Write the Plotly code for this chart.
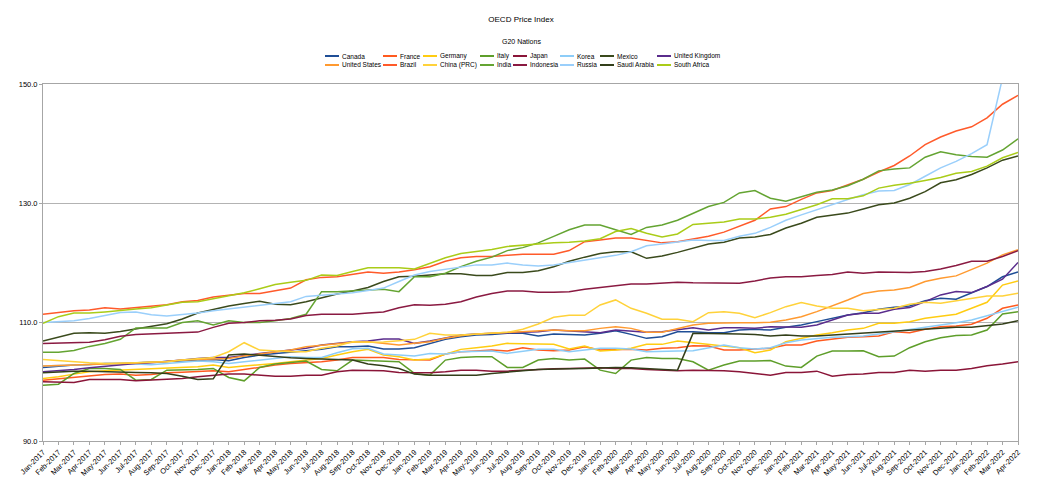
import plotly.graph_objects as go

month_names = ["Jan", "Feb", "Mar", "Apr", "May", "Jun", "Jul", "Aug", "Sep", "Oct", "Nov", "Dec"]
months = [f"{m}-{y}" for y in range(2017, 2023) for m in month_names][:64]

y_ticks = [90, 110, 130, 150]

canada = [102.36, 102.59, 102.76, 102.87, 103.04, 103.04, 103.15, 103.21, 103.32, 103.49,
          103.60, 103.71, 103.49, 104.05, 104.44, 104.72, 105.00, 105.17, 105.40, 105.85, 105.85,
          105.96, 105.45, 105.45, 105.68, 106.41, 107.08, 107.53, 107.81, 107.92, 108.09, 108.09,
          107.64, 107.98, 107.92, 107.81, 108.09, 108.54, 107.92, 107.25, 107.53, 108.37,
          108.37, 108.20, 108.20, 108.65, 108.77, 108.65, 109.10, 109.50, 110.06, 110.62, 111.18,
          111.57, 112.13, 112.47, 112.70, 113.56, 113.99, 113.82, 114.83, 115.96, 117.6, 118.4]
france = [100.23, 100.45, 100.68, 100.90, 101.18, 101.24, 101.07, 101.18, 101.46, 101.57,
          101.63, 101.80, 101.63, 102.03, 102.36, 102.76, 103.04, 103.15, 103.32, 103.60, 104.05,
          104.05, 104.05, 103.71, 103.60, 103.60, 104.61, 105.00, 105.12, 105.28, 105.12, 105.68,
          105.28, 105.17, 105.28, 105.85, 105.28, 105.40, 105.40, 105.28, 105.59, 105.68,
          106.01, 105.96, 105.28, 105.28, 105.40, 105.59, 106.13, 106.13, 106.80, 107.08, 107.42,
          107.53, 107.64, 108.37, 108.20, 108.77, 109.21, 109.33, 109.61, 110.62, 112.30, 112.87]
germany = [100.51, 100.79, 101.24, 101.63, 101.80, 101.91, 102.03, 102.03, 102.19, 102.36,
           102.47, 102.76, 102.36, 102.59, 102.76, 103.04, 103.32, 103.60, 103.88, 104.44, 105.00,
           105.40, 104.44, 104.16, 103.60, 103.77, 104.61, 105.40, 105.68, 105.96, 106.41, 106.29,
           106.29, 106.24, 105.45, 105.96, 105.12, 105.28, 105.59, 106.24, 106.24, 106.80,
           106.52, 106.24, 105.85, 105.68, 104.83, 105.28, 106.69, 107.25, 107.81, 108.20, 108.65,
           108.93, 109.78, 109.78, 110.06, 110.62, 111.01, 111.29, 112.30, 113.31, 116.2, 116.9]
italy = [99.39, 99.55, 101.35, 102.19, 102.19, 102.03, 100.23, 100.34, 101.91, 101.91,
         102.03, 102.19, 100.68, 100.11, 102.36, 102.93, 103.21, 103.43, 102.03, 101.80, 103.60,
         103.49, 103.43, 103.32, 101.35, 101.07, 103.60, 104.05, 104.16, 104.16, 102.36, 102.36,
         103.60, 103.88, 103.60, 103.77, 101.91, 101.35, 103.60, 104.05, 103.88, 103.88,
         103.32, 101.91, 102.76, 103.43, 103.43, 103.54, 102.59, 102.36, 104.27, 105.12, 105.12,
         105.17, 104.16, 104.27, 105.68, 106.69, 107.36, 107.75, 107.81, 108.65, 111.35, 111.74]
japan = [99.95, 99.83, 99.83, 100.34, 100.34, 100.34, 100.11, 100.23, 100.45, 100.51,
         100.79, 101.07, 101.24, 101.24, 101.01, 100.90, 100.90, 101.07, 101.07, 101.63, 101.91,
         101.91, 101.80, 101.52, 101.52, 101.46, 101.63, 101.91, 101.91, 101.74, 101.74, 101.91,
         102.03, 102.14, 102.19, 102.31, 102.31, 102.19, 102.19, 102.03, 101.91, 101.80,
         101.91, 101.91, 101.80, 101.63, 101.35, 101.07, 101.52, 101.52, 101.74, 100.90, 101.18,
         101.24, 101.52, 101.52, 101.91, 101.74, 101.91, 101.91, 102.19, 102.64, 102.93, 103.32]
korea = [102.59, 102.70, 102.76, 102.81, 103.04, 103.04, 102.93, 102.81, 103.04, 103.26,
         103.43, 103.32, 103.04, 103.32, 103.60, 103.99, 104.16, 104.05, 104.05, 104.83, 105.51,
         105.59, 104.61, 104.44, 104.27, 104.72, 104.61, 105.00, 105.00, 105.12, 104.72, 105.00,
         105.40, 105.40, 105.00, 105.28, 105.59, 105.59, 105.45, 105.00, 105.00, 105.12,
         105.17, 105.59, 106.13, 105.68, 105.45, 105.68, 106.52, 106.97, 107.25, 107.42, 107.53,
         107.64, 107.98, 108.37, 108.65, 109.05, 109.50, 109.89, 110.34, 111.01, 111.74, 112.47]
mexico = [106.8, 107.4, 108.1, 108.2, 108.1, 108.4, 108.8, 109.2, 109.7, 110.5,
          111.5, 112.1, 112.7, 113.1, 113.5, 113.0, 112.9, 113.4, 114.1, 114.7,
          115.2, 115.8, 116.8, 117.6, 117.7, 117.9, 118.1, 118.1, 117.8, 117.8,
          118.3, 118.3, 118.6, 119.3, 120.2, 120.9, 121.5, 121.8, 121.8, 120.7,
          121.1, 121.7, 122.4, 123.1, 123.4, 124.1, 124.3, 124.7, 125.8, 126.6,
          127.6, 128.0, 128.3, 129.0, 129.7, 130.0, 130.8, 131.9, 133.4, 133.9,
          134.8, 135.9, 137.2, 137.9]
united_kingdom = [101.63, 101.80, 102.03, 102.31, 102.59, 102.76, 103.04, 103.15, 103.32, 103.60,
                  103.88, 104.05, 104.05, 104.44, 104.72, 105.00, 105.28, 105.59, 106.13, 106.41, 106.69,
                  106.80, 107.14, 107.14, 106.41, 106.80, 107.36, 107.81, 107.98, 108.09, 108.26, 108.37,
                  108.37, 108.65, 108.54, 108.37, 108.20, 108.65, 108.48, 108.26, 108.37, 108.77,
                  109.05, 108.65, 109.05, 109.05, 108.93, 109.21, 109.10, 109.10, 109.50, 110.34, 111.18,
                  111.46, 111.46, 112.13, 112.42, 113.43, 114.55, 115.11, 114.94, 115.96, 117.2, 120.0]
united_states = [102.59, 102.70, 102.81, 102.93, 103.04, 103.04, 103.10, 103.21, 103.38, 103.60,
                 103.71, 103.71, 103.88, 104.27, 104.61, 105.00, 105.28, 105.85, 106.13, 106.41, 106.58,
                 106.69, 106.41, 106.13, 106.41, 106.69, 107.25, 107.70, 107.98, 108.09, 108.26, 108.37,
                 108.48, 108.65, 108.54, 108.54, 108.93, 109.21, 108.93, 108.26, 108.26, 108.82,
                 109.50, 109.78, 109.89, 109.89, 109.89, 109.95, 110.34, 110.90, 111.74, 112.70, 113.71,
                 114.80, 115.22, 115.39, 115.79, 116.80, 117.36, 117.75, 118.76, 119.89, 121.29, 122.13]
brazil = [111.3, 111.6, 111.9, 112.0, 112.4, 112.2, 112.4, 112.6, 112.9, 113.4,
          113.6, 114.2, 114.5, 114.8, 114.8, 115.2, 115.7, 117.1, 117.5, 117.6,
          118.0, 118.4, 118.2, 118.4, 118.8, 119.3, 120.2, 120.8, 121.0, 121.0,
          121.2, 121.4, 121.4, 121.4, 122.0, 123.5, 123.8, 124.1, 124.1, 123.7,
          123.3, 123.5, 124.0, 124.4, 125.1, 126.1, 127.1, 129.0, 129.4, 130.6,
          131.7, 132.1, 133.1, 134.0, 135.2, 136.3, 137.9, 139.8, 141.1, 142.1,
          142.8, 144.3, 146.6, 148.1]
china = [103.71, 103.49, 103.26, 103.15, 103.04, 103.04, 103.15, 103.26, 103.32, 103.60,
         103.88, 104.05, 105.00, 106.52, 105.28, 105.12, 105.00, 105.00, 105.59, 105.96, 106.69,
         106.58, 106.63, 106.85, 107.08, 108.09, 107.81, 107.81, 107.98, 108.09, 108.26, 108.77,
         109.66, 110.79, 111.12, 111.12, 112.87, 113.71, 112.30, 111.46, 110.45, 110.45,
         110.06, 111.57, 111.74, 111.46, 110.73, 111.57, 112.58, 113.26, 112.70, 112.30, 112.30,
         111.91, 112.13, 112.30, 112.98, 113.31, 113.15, 113.56, 113.99, 114.38, 114.38, 114.83]
india = [104.9, 104.9, 105.2, 105.9, 106.4, 107.1, 109.0, 109.0, 109.0, 109.9,
         110.2, 109.5, 110.2, 109.9, 109.9, 110.2, 110.6, 111.3, 115.1, 115.1,
         115.2, 115.4, 115.5, 115.1, 117.6, 117.6, 118.2, 119.3, 120.2, 120.9,
         122.0, 122.5, 123.3, 124.4, 125.5, 126.3, 126.3, 125.5, 124.7, 125.9,
         126.3, 127.1, 128.3, 129.4, 130.1, 131.7, 132.1, 130.8, 130.3, 131.1,
         131.8, 132.2, 132.9, 134.0, 135.4, 135.7, 135.9, 137.7, 138.6, 138.1,
         137.8, 137.7, 138.9, 140.8]
indonesia = [106.4, 106.5, 106.6, 106.6, 107.0, 107.6, 107.9, 108.0, 108.1, 108.2,
             108.3, 109.1, 109.8, 109.9, 110.2, 110.3, 110.5, 111.1, 111.3, 111.3,
             111.3, 111.5, 111.7, 112.4, 112.9, 112.8, 113.0, 113.4, 114.2, 114.8,
             115.2, 115.2, 115.0, 115.0, 115.1, 115.5, 115.8, 116.2, 116.4, 116.4,
             116.5, 116.7, 116.6, 116.6, 116.5, 116.5, 116.9, 117.4, 117.6, 117.6,
             117.8, 118.0, 118.4, 118.2, 118.4, 118.4, 118.3, 118.5, 118.9, 119.5,
             120.2, 120.2, 121.0, 122.0]
russia = [109.9, 110.0, 110.2, 110.6, 111.1, 111.6, 111.7, 111.2, 111.0, 111.2,
          111.5, 111.9, 112.2, 112.5, 112.8, 113.1, 113.4, 114.3, 114.5, 114.7,
          114.9, 115.3, 115.7, 116.8, 117.9, 118.5, 118.9, 119.2, 119.6, 119.6,
          119.9, 119.6, 119.4, 119.6, 120.0, 120.4, 120.8, 121.2, 121.8, 122.8,
          123.1, 123.4, 123.8, 123.7, 123.7, 124.4, 124.9, 125.9, 127.1, 128.0,
          128.9, 129.7, 130.6, 131.4, 132.0, 132.1, 133.1, 134.5, 135.9, 137.0,
          138.3, 139.8, 151.0, 153.3]
saudi_arabia = [101.46, 101.63, 101.74, 101.74, 101.63, 101.57, 101.52, 101.46, 101.35, 100.90,
                100.34, 100.45, 104.44, 104.61, 104.38, 104.16, 103.99, 103.88, 103.82, 103.71, 103.60,
                102.93, 102.64, 102.19, 101.24, 101.07, 101.07, 100.96, 101.07, 101.35, 101.63, 101.80,
                102.03, 102.03, 102.14, 102.19, 102.31, 102.36, 102.31, 102.19, 102.03, 101.91,
                108.09, 108.09, 107.98, 107.98, 107.92, 107.64, 107.81, 107.64, 107.64, 107.81, 107.98,
                108.09, 108.20, 108.37, 108.54, 108.77, 108.93, 109.10, 109.10, 109.33, 109.66, 110.23]
south_africa = [109.8, 110.9, 111.5, 111.5, 111.7, 112.0, 112.2, 112.4, 112.9, 113.3,
                113.4, 113.9, 114.4, 114.9, 115.6, 116.3, 116.7, 117.0, 117.9, 117.8,
                118.5, 119.1, 119.1, 119.1, 118.9, 119.9, 120.8, 121.5, 121.8, 122.2,
                122.7, 122.9, 123.2, 123.3, 123.4, 123.6, 124.0, 125.2, 125.7, 124.9,
                124.3, 124.8, 126.4, 126.6, 126.8, 127.3, 127.3, 127.6, 128.1, 128.9,
                129.7, 130.7, 130.7, 131.2, 132.5, 133.0, 133.3, 133.8, 134.3, 135.0,
                135.3, 136.2, 137.6, 138.5]

series_names = ["Canada", "France", "Germany", "Italy", "Japan", "Korea", "Mexico", "United Kingdom",
                "United States", "Brazil", "China (PRC)", "India", "Indonesia", "Russia",
                "Saudi Arabia", "South Africa"]
series_values = [canada, france, germany, italy, japan, korea, mexico, united_kingdom,
                 united_states, brazil, china, india, indonesia, russia, saudi_arabia, south_africa]
series_colors = ["#1F4E96", "#FF5A1F", "#FFCC11", "#5E9E2A", "#8A1538", "#8DCDF8", "#3A4A1C", "#5A2C8C",
                 "#FF9A30", "#FF5A2A", "#FFD23A", "#64A432", "#8A1A42", "#9ACFFB", "#333F1A", "#AACC18"]

FONT = "Liberation Sans, Arial, sans-serif"
W, H = 1042, 480
ML, MR, MT, MB = 43, 24, 84, 39
PW, PH = W - ML - MR, H - MT - MB

fig = go.Figure()
for name, vals, col in zip(series_names, series_values, series_colors):
    fig.add_trace(go.Scatter(x=months, y=vals, name=name, mode="lines",
                             line=dict(color=col, width=1.5), showlegend=False))

# custom compact legend (two rows, eight columns)
legend_cols_px = [325, 383, 423, 480, 513, 560, 600, 657]
legend_rows_px = [56, 65]
shapes = []
annotations = []
for k, (name, col) in enumerate(zip(series_names, series_colors)):
    r, c = divmod(k, 8)
    x0 = (legend_cols_px[c] - ML) / PW
    x1 = (legend_cols_px[c] + 14 - ML) / PW
    yy = (H - MB - legend_rows_px[r]) / PH
    shapes.append(dict(type="line", xref="paper", yref="paper", x0=x0, x1=x1, y0=yy, y1=yy,
                       line=dict(color=col, width=2)))
    annotations.append(dict(text=name, xref="paper", yref="paper", x=x1, y=yy, xanchor="left",
                            yanchor="middle", showarrow=False, xshift=1,
                            font=dict(family=FONT, size=6.5, color="black")))

annotations.append(dict(text="G20 Nations", xref="paper", yref="paper", x=(521 - ML) / PW,
                        y=(H - MB - 42) / PH, xanchor="center", yanchor="middle", showarrow=False,
                        font=dict(family=FONT, size=7, color="black")))

fig.update_layout(
    width=W, height=H,
    margin=dict(l=ML, r=MR, t=MT, b=MB, autoexpand=False),
    paper_bgcolor="white", plot_bgcolor="white",
    font=dict(family=FONT, color="black"),
    title=dict(text="OECD Price Index", x=0.5, xref="container", xanchor="center",
               y=1 - 19 / H, yref="container", yanchor="middle",
               font=dict(family=FONT, size=8, color="black")),
    shapes=shapes, annotations=annotations,
    xaxis=dict(type="category", categoryorder="array", categoryarray=months, automargin=False,
               range=[0, len(months) - 1], tickangle=-45, tickfont=dict(size=7.5, color="black"),
               showgrid=False, showline=True, linecolor="#A6A6A6", linewidth=1, mirror=True,
               ticks="outside", ticklen=3, tickcolor="#A6A6A6", zeroline=False),
    yaxis=dict(range=[90, 150], tickvals=y_ticks, tickformat=".1f", automargin=False,
               tickfont=dict(size=7.5, color="black"),
               showgrid=True, gridcolor="#B3B3B3", gridwidth=1,
               showline=True, linecolor="#A6A6A6", linewidth=1, mirror=True,
               ticks="outside", ticklen=3, tickcolor="#A6A6A6", zeroline=False),
)

fig.write_html("out.html", config={"displayModeBar": False},
               post_script="document.documentElement.style.margin='0';"
                           "document.body.style.margin='0';document.body.style.overflow='hidden';")
